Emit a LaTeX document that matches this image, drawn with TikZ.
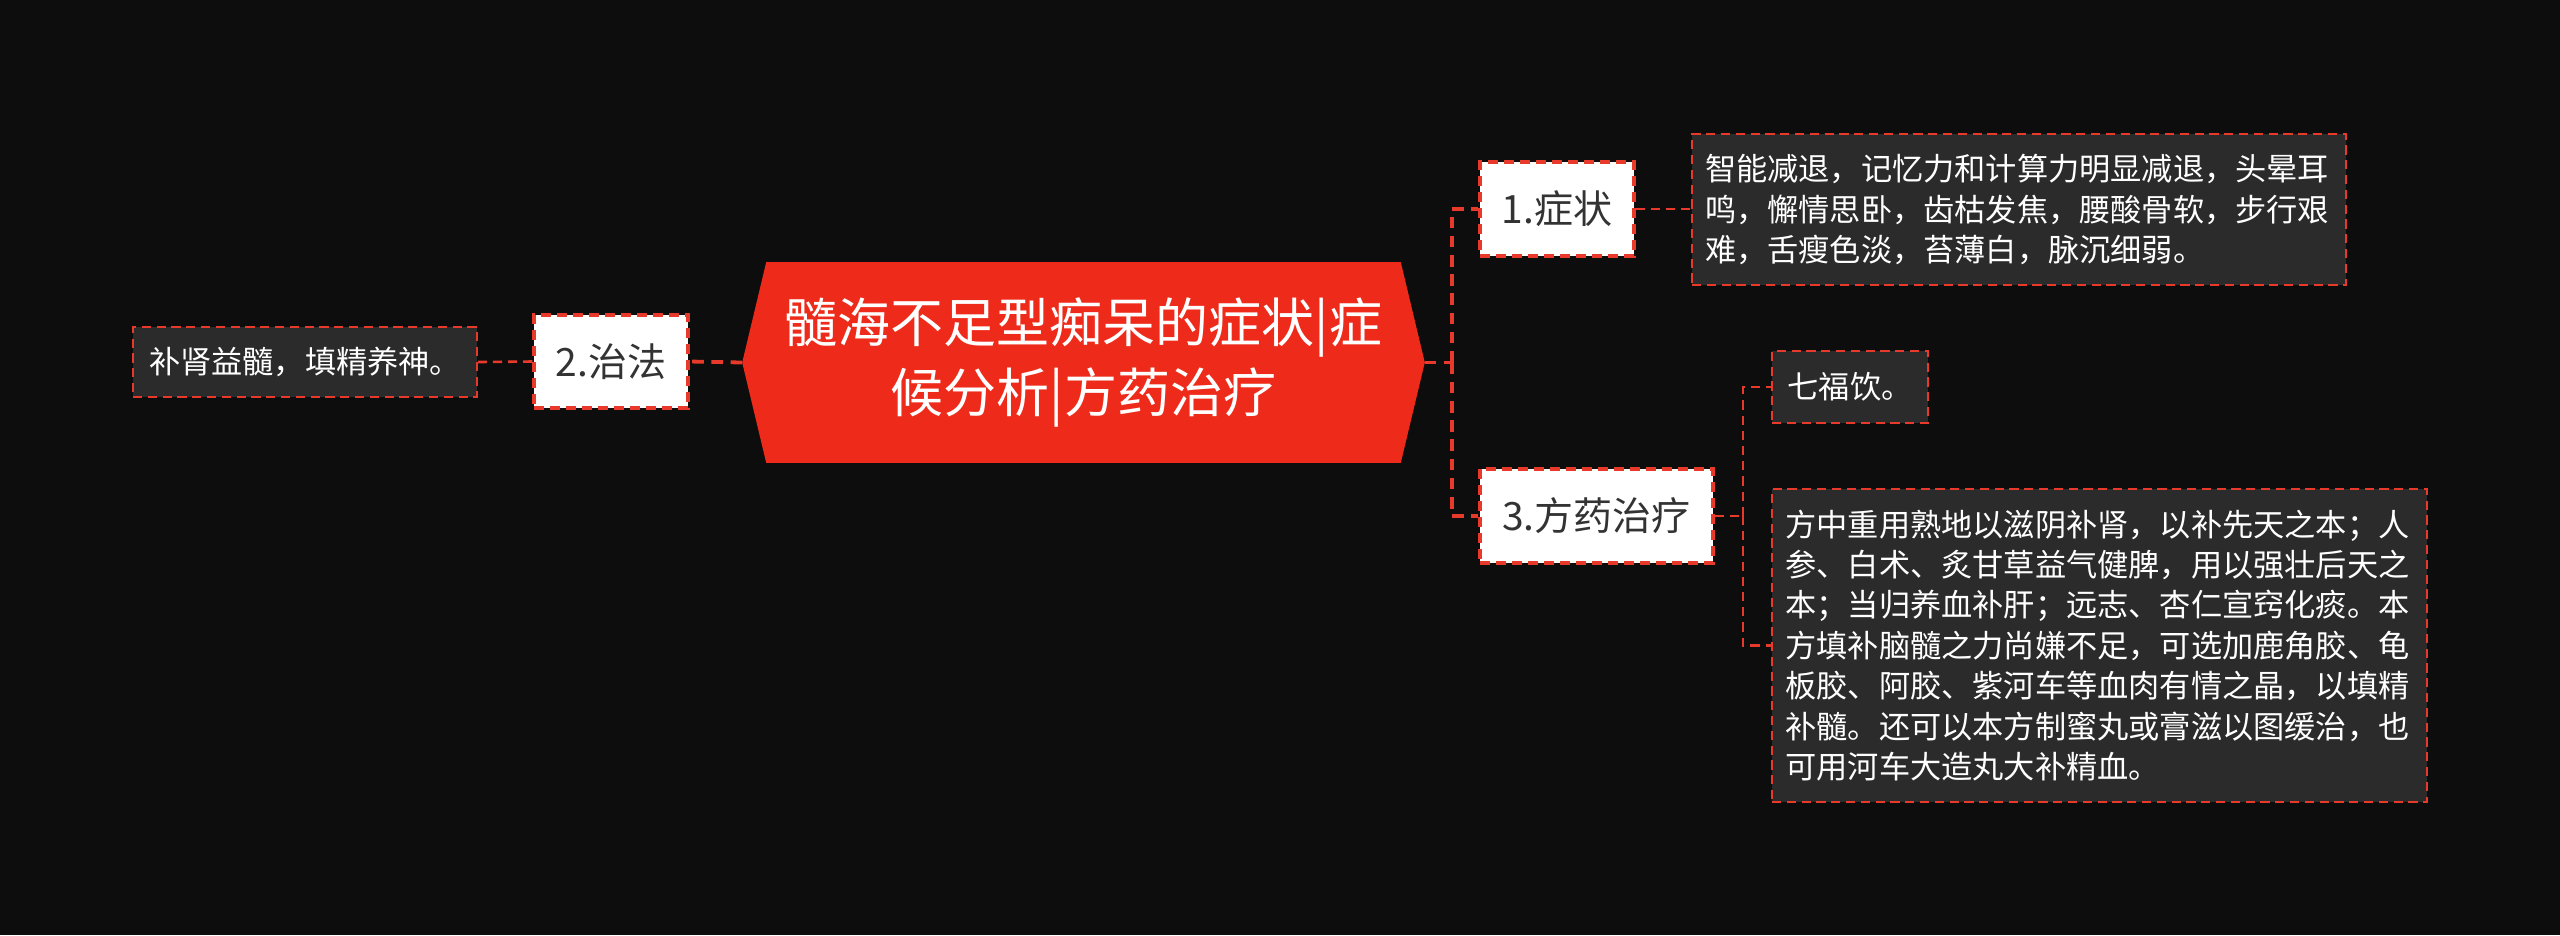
\documentclass[tikz,border=0pt]{standalone}
\usepackage{fontspec}
\newfontfamily\cjk{Noto Sans CJK SC}
\usetikzlibrary{backgrounds}
\definecolor{bgc}{RGB}{13,13,13}
\definecolor{hexred}{RGB}{238,42,26}
\definecolor{linered}{RGB}{232,58,42}
\definecolor{boxgray}{RGB}{43,43,43}
\definecolor{labeltext}{RGB}{51,51,51}
\begin{document}
\begin{tikzpicture}[x=0.25pt,y=-0.25pt,
  conn/.style={draw=linered,line width=0.95pt,dash pattern=on 2.9pt off 1.9pt},
  subconn/.style={draw=linered,line width=0.65pt,dash pattern=on 2.3pt off 1.5pt},
  lbox/.style={draw=linered,line width=0.8pt,dash pattern=on 2.5pt off 1.5pt,fill=white,text=labeltext,
    font=\cjk\fontsize{9.75}{12}\selectfont,inner sep=0pt},
  dbox/.style={draw=linered,line width=0.6pt,dash pattern=on 2.3pt off 1.4pt,fill=boxgray,text=white,
    font=\cjk\fontsize{7.8}{10.1}\selectfont,inner sep=0pt,align=left},
  hexnode/.style={text=white,font=\cjk\fontsize{13.25}{17.5}\selectfont,align=center,inner sep=0pt,
    minimum width=170.25pt,minimum height=49.75pt}
]
\useasboundingbox (0,0) rectangle (2560,935);

\node[hexnode] (c) at (1083.5,362.5) {髓海不足型痴呆的症状|症\\候分析|方药治疗};

\begin{scope}[on background layer]
\fill[bgc] (0,0) rectangle (2560,935);
\fill[hexred] (c.west) -- ([xshift=6pt]c.north west) -- ([xshift=-6pt]c.north east) -- (c.east)
  -- ([xshift=-6pt]c.south east) -- ([xshift=6pt]c.south west) -- cycle;
\end{scope}

\node[lbox,minimum width=38.5pt,minimum height=23.25pt] (n2) at (611,361.5) {2.治法};
\node[dbox,minimum width=86pt,minimum height=17.5pt] (bu) at (305,362) {补肾益髓，填精养神。};

\node[lbox,minimum width=38.5pt,minimum height=23.5pt] (n1) at (1557,209) {1.症状};
\node[dbox,minimum width=163.5pt,minimum height=37.75pt,text width=157pt] (sym) at (2019,209.5)
  {智能减退，记忆力和计算力明显减退，头晕耳\\鸣，懈情思卧，齿枯发焦，腰酸骨软，步行艰\\难，舌瘦色淡，苔薄白，脉沉细弱。};

\node[lbox,minimum width=58.25pt,minimum height=23.5pt] (n3) at (1596.5,516) {3.方药治疗};
\node[dbox,minimum width=39pt,minimum height=18pt] (q) at (1850,387) {七福饮。};
\node[dbox,minimum width=163.75pt,minimum height=78.25pt,text width=157pt] (lg) at (2099.5,645.5)
  {方中重用熟地以滋阴补肾，以补先天之本；人\\参、白术、炙甘草益气健脾，用以强壮后天之\\本；当归养血补肝；远志、杏仁宣窍化痰。本\\方填补脑髓之力尚嫌不足，可选加鹿角胶、龟\\板胶、阿胶、紫河车等血肉有情之晶，以填精\\补髓。还可以本方制蜜丸或膏滋以图缓治，也\\可用河车大造丸大补精血。};

\coordinate (t1) at (1452,362.5);
\coordinate (t2) at (1743,516);

\draw[conn] (c.west) -- (n2.east);
\draw[subconn] (n2.west) -- (bu.east);
\draw[conn] (c.east) -- (t1);
\draw[conn] (t1) |- (n1.west);
\draw[conn] (t1) |- (n3.west);
\draw[subconn] (n1.east) -- (sym.west |- n1.east);
\draw[subconn] (n3.east) -- (t2);
\draw[subconn] (t2) |- (q.west);
\draw[subconn] (t2) |- (lg.west);
\end{tikzpicture}
\end{document}
